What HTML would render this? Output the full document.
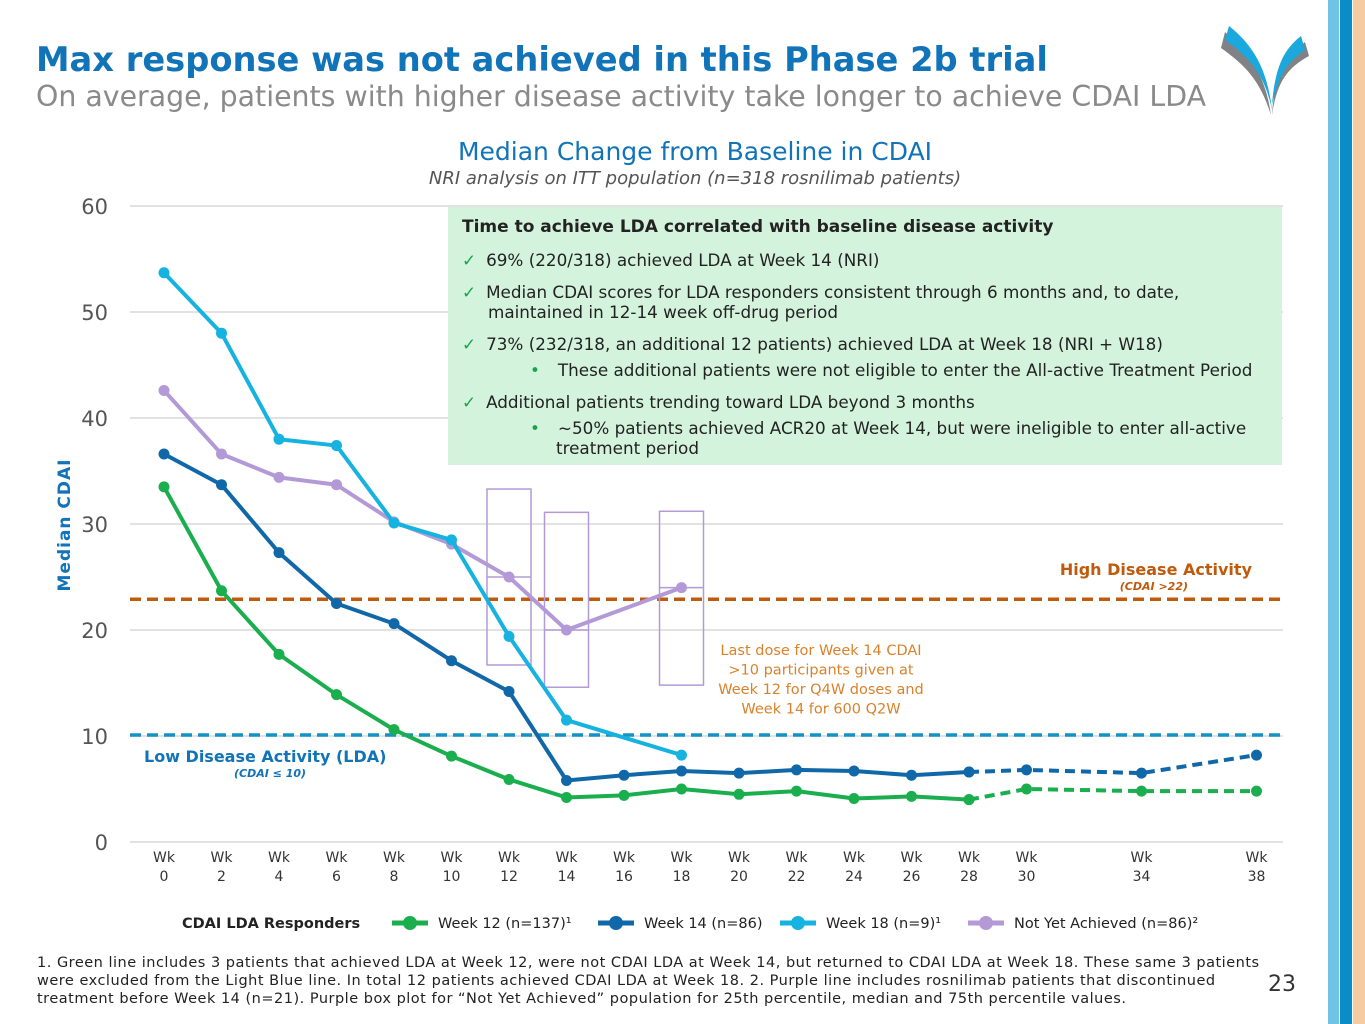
<!DOCTYPE html>
<html><head><meta charset="utf-8">
<style>
body{margin:0;width:1365px;height:1024px;background:#fff;position:relative;overflow:hidden;font-family:"DejaVu Sans","Liberation Sans",sans-serif;}
.abs{position:absolute;margin:0}
#box{left:448px;top:207px;width:834px;height:258px;background:#d4f3dc;font-size:16.8px;color:#222;}
#box p{position:absolute;left:14px;margin:0;line-height:20px;white-space:nowrap}
.ck{color:#1aa34a;margin-right:10px}
</style></head><body>
<div class="abs" style="left:1328px;top:0;width:11px;height:1024px;background:#6fc3e6"></div>
<div class="abs" style="left:1340px;top:0;width:12px;height:1024px;background:#0a8cc8"></div>
<div class="abs" style="left:1353px;top:0;width:12px;height:1024px;background:#f7cba2"></div>
<svg class="abs" style="left:1215px;top:20px" width="100" height="105">
<path d="M10 12 C30 30 50 50 56 95 C45 60 30 45 6 28 Z" fill="#808285"/>
<path d="M14 6 C34 22 52 44 57 90 C50 55 35 38 10 20 Z" fill="#1ba8dc"/>
<path d="M90 22 C70 38 60 55 57 95 C62 62 72 48 94 36 Z" fill="#808285"/>
<path d="M86 16 C68 30 60 48 57 85 C64 55 72 42 90 30 Z" fill="#1ba8dc"/>
</svg>
<h1 class="abs" style="left:36px;top:40px;font-size:33.7px;color:#1173b8;font-weight:bold;font-family:'DejaVu Sans',sans-serif">Max response was not achieved in this Phase 2b trial</h1>
<div class="abs" style="left:36px;top:80px;font-size:28.4px;color:#8a8a8a">On average, patients with higher disease activity take longer to achieve CDAI LDA</div>
<div class="abs" style="left:0;width:1390px;text-align:center;top:137px;font-size:25px;color:#1173b8">Median Change from Baseline in CDAI</div>
<div class="abs" style="left:0;width:1390px;text-align:center;top:168px;font-size:18px;color:#555;font-style:italic">NRI analysis on ITT population (n=318 rosnilimab patients)</div>

<svg id="chart" class="abs" style="left:0;top:0" width="1365" height="1024"></svg>

<div id="box" class="abs">
<p style="top:10px;font-weight:bold;font-size:17px">Time to achieve LDA correlated with baseline disease activity</p>
<p style="top:43px"><span class="ck">✓</span>69% (220/318) achieved LDA at Week 14 (NRI)</p>
<p style="top:75px"><span class="ck">✓</span>Median CDAI scores for LDA responders consistent through 6 months and, to date,</p>
<p style="top:95px;left:40px">maintained in 12-14 week off-drug period</p>
<p style="top:127px"><span class="ck">✓</span>73% (232/318, an additional 12 patients) achieved LDA at Week 18 (NRI + W18)</p>
<p style="top:153px;left:82px"><span style="color:#1aa34a;margin-right:18px">•</span>These additional patients were not eligible to enter the All-active Treatment Period</p>
<p style="top:185px"><span class="ck">✓</span>Additional patients trending toward LDA beyond 3 months</p>
<p style="top:211px;left:82px"><span style="color:#1aa34a;margin-right:18px">•</span>~50% patients achieved ACR20 at Week 14, but were ineligible to enter all-active</p>
<p style="top:231px;left:108px">treatment period</p>
</div>

<div class="abs" style="left:37px;top:954px;white-space:nowrap;font-size:14.5px;letter-spacing:0.5px;line-height:18px;color:#222">1. Green line includes 3 patients that achieved LDA at Week 12, were not CDAI LDA at Week 14, but returned to CDAI LDA at Week 18. These same 3 patients<br>were excluded from the Light Blue line.  In total 12 patients achieved CDAI LDA at Week 18.  2. Purple line includes rosnilimab patients that discontinued<br>treatment before Week 14 (n=21).  Purple box plot for “Not Yet Achieved” population for 25th percentile, median and 75th percentile values.</div>
<div class="abs" style="left:1268px;top:972px;font-size:22px;color:#333">23</div>

<script>
const weeks=[0,2,4,6,8,10,12,14,16,18,20,22,24,26,28,30,34,38];
const yTicks=[0,10,20,30,40,50,60];
const g12W=[0,2,4,6,8,10,12,14,16,18,20,22,24,26,28];
const g12V=[33.5,23.7,17.7,13.9,10.6,8.1,5.9,4.2,4.4,5.0,4.5,4.8,4.1,4.3,4.0];
const g12DW=[28,30,34,38];
const g12DV=[4.0,5.0,4.8,4.8];
const w14W=[0,2,4,6,8,10,12,14,16,18,20,22,24,26,28];
const w14V=[36.6,33.7,27.3,22.5,20.6,17.1,14.2,5.8,6.3,6.7,6.5,6.8,6.7,6.3,6.6];
const w14DW=[28,30,34,38];
const w14DV=[6.6,6.8,6.5,8.2];
const w18W=[0,2,4,6,8,10,12,14,18];
const w18V=[53.7,48.0,38.0,37.4,30.1,28.5,19.4,11.5,8.2];
const nyaW=[0,2,4,6,8,10,12,14,18];
const nyaV=[42.6,36.6,34.4,33.7,30.2,28.1,25.0,20.0,24.0];
const boxW=[12,14,18];
const boxQ1=[16.7,14.6,14.8];
const boxMed=[25.0,20.0,24.0];
const boxQ3=[33.3,31.1,31.2];
const highDA=22.9, lowDA=10.1;

const X=w=>164+w*28.75;
const Y=v=>842-v*10.6;
const svg=document.getElementById('chart');
const NS='http://www.w3.org/2000/svg';
function mk(t,a,p){const e=document.createElementNS(NS,t);for(const k in a)e.setAttribute(k,a[k]);(p||svg).appendChild(e);return e;}

yTicks.forEach(v=>{
 const l=mk('line',{x1:130,x2:1283,y1:Y(v),y2:Y(v),stroke:'#d9d9d9','stroke-width':1.5});
 
 
 const t=mk('text',{x:108,y:Y(v)+8,'text-anchor':'end','font-size':21,fill:'#555','font-family':'DejaVu Sans,sans-serif'});
 t.textContent=v;
 
 
});
const yt=mk('text',{x:0,y:0,transform:'translate(70,525) rotate(-90)','text-anchor':'middle','font-size':17,'font-weight':'bold',fill:'#1173b8','font-family':'DejaVu Sans,sans-serif','letter-spacing':1});
yt.textContent='Median CDAI';



weeks.forEach(w=>{
 const t=mk('text',{x:X(w),y:862,'text-anchor':'middle','font-size':14,fill:'#333','font-family':'DejaVu Sans,sans-serif'});
 
 
 const a=mk('tspan',{x:X(w),dy:0},t);a.textContent='Wk';
 const b=mk('tspan',{x:X(w),dy:19},t);b.textContent=w;
});

const hl=mk('line',{x1:130,x2:1283,y1:Y(highDA),y2:Y(highDA),stroke:'#c05a0c','stroke-width':3.5,'stroke-dasharray':'11 6'});


const ll=mk('line',{x1:130,x2:1283,y1:Y(lowDA),y2:Y(lowDA),stroke:'#1592c4','stroke-width':3.5,'stroke-dasharray':'11 6'});


function txt(s,x,y,a,name){const t=mk('text',Object.assign({x:x,y:y,'font-family':'DejaVu Sans,sans-serif'},a));t.textContent=s;return t;}
txt('High Disease Activity',1252,575,{'text-anchor':'end','font-size':16,'font-weight':'bold',fill:'#c05a0c'},'high-da-label');
txt('(CDAI >22)',1188,590,{'text-anchor':'end','font-size':11,'font-weight':'bold','font-style':'italic',fill:'#c05a0c'},'high-da-sublabel');
txt('Low Disease Activity (LDA)',144,762,{'font-size':16,'font-weight':'bold',fill:'#1173b8'},'low-da-label');
txt('(CDAI ≤ 10)',234,777,{'font-size':11,'font-weight':'bold','font-style':'italic',fill:'#1173b8'},'low-da-sublabel');
['Last dose for Week 14 CDAI','>10 participants given at','Week 12 for Q4W doses and','Week 14 for 600 Q2W'].forEach((s,i)=>txt(s,821,655+i*19.5,{'text-anchor':'middle','font-size':14.5,fill:'#d9822b'},'annotation-line-'+i));

boxW.forEach((w,i)=>{
 const r=mk('rect',{x:X(w)-22,y:Y(boxQ3[i]),width:44,height:Y(boxQ1[i])-Y(boxQ3[i]),fill:'none',stroke:'#b39ad6','stroke-width':1.5});
 
 
 const m=mk('line',{x1:X(w)-22,x2:X(w)+22,y1:Y(boxMed[i]),y2:Y(boxMed[i]),stroke:'#b39ad6','stroke-width':1.5});
 
 
});

function series(W,V,color,name,dash){
 const pts=W.map((w,i)=>X(w)+','+Y(V[i])).join(' ');
 const p=mk('polyline',{points:pts,fill:'none',stroke:color,'stroke-width':4,'stroke-linejoin':'round'});
 if(dash)p.setAttribute('stroke-dasharray','10 6');
 
 
 W.forEach((w,i)=>{
  const c=mk('circle',{cx:X(w),cy:Y(V[i]),r:5.5,fill:color});
  
  
 });
}
series(nyaW,nyaV,'#b39ad6','not-yet-achieved');
series(w18W,w18V,'#16b2e0','week18');
series(w14DW,w14DV,'#1068a8','week14-followup',true);
series(w14W,w14V,'#1068a8','week14');
series(g12DW,g12DV,'#1aae4e','week12-followup',true);
series(g12W,g12V,'#1aae4e','week12');

txt('CDAI LDA Responders',182,928,{'font-size':14.5,'font-weight':'bold',fill:'#222'},'legend-title');
const leg=[['Week 12 (n=137)¹','#1aae4e',392],['Week 14 (n=86)','#1068a8',598],['Week 18 (n=9)¹','#16b2e0',780],['Not Yet Achieved (n=86)²','#b39ad6',968]];
leg.forEach((l,i)=>{
 const ln=mk('line',{x1:l[2],x2:l[2]+36,y1:923,y2:923,stroke:l[1],'stroke-width':5});
 
 
 const c=mk('circle',{cx:l[2]+18,cy:923,r:7,fill:l[1]});
 
 
 txt(l[0],l[2]+46,928,{'font-size':14.5,fill:'#222'},'legend-entry-'+i);
});
</script>
</body></html>
